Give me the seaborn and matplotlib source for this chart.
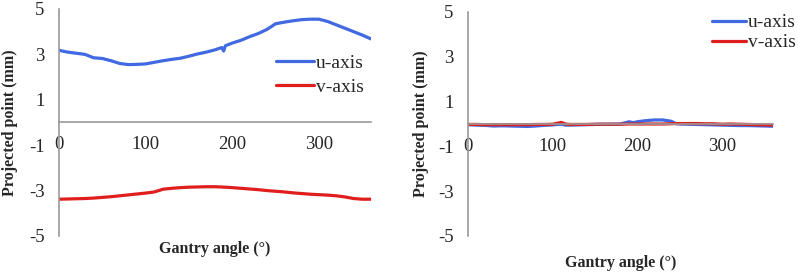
import matplotlib
matplotlib.use('Agg')
import matplotlib.pyplot as plt
import numpy as np
import pandas as pd
import seaborn as sns

# gantry angle samples (deg)
angle_left = [0, 10, 20, 30, 40, 50, 60, 70, 80, 90, 100, 110, 120, 130, 140, 150, 160, 170,
              180, 186, 188, 190, 192, 200, 210, 220, 230, 240, 250, 260, 270, 280, 290, 300,
              310, 320, 330, 340, 350, 360]
u_left = [3.18, 3.1, 3.05, 3.0, 2.85, 2.82, 2.72, 2.6, 2.55, 2.56, 2.58, 2.65, 2.72, 2.78, 2.83,
          2.92, 3.02, 3.1, 3.2, 3.28, 3.3, 3.15, 3.38, 3.5, 3.62, 3.78, 3.92, 4.1, 4.35, 4.42,
          4.48, 4.53, 4.55, 4.55, 4.45, 4.3, 4.15, 4.0, 3.85, 3.68]
v_left = [-3.38, -3.37, -3.36, -3.35, -3.33, -3.3, -3.27, -3.23, -3.19, -3.15, -3.11, -3.06,
          -2.94, -2.9, -2.87, -2.85, -2.84, -2.83, -2.83, -2.84, -2.84, -2.85, -2.85, -2.87,
          -2.9, -2.93, -2.96, -3.0, -3.03, -3.06, -3.1, -3.13, -3.16, -3.18, -3.2, -3.23,
          -3.28, -3.35, -3.38, -3.38]

angle_right = [0, 10, 20, 30, 40, 50, 60, 70, 80, 90, 100, 105, 110, 115, 120, 130, 140, 150,
               160, 170, 180, 190, 195, 200, 210, 220, 230, 240, 245, 250, 260, 270, 280, 290,
               300, 310, 320, 330, 340, 350, 360]
u_right = [-0.03, -0.05, -0.06, -0.09, -0.08, -0.09, -0.1, -0.11, -0.09, -0.06, -0.04, -0.02,
           -0.01, -0.05, -0.05, -0.04, -0.03, -0.02, -0.01, -0.01, 0.0, 0.1, 0.06, 0.1, 0.15,
           0.18, 0.18, 0.12, 0.02, 0.0, -0.01, -0.02, -0.03, -0.04, -0.05, -0.06, -0.07, -0.07,
           -0.08, -0.09, -0.1]
v_right = [-0.02, -0.02, -0.03, -0.03, -0.03, -0.03, -0.03, -0.03, -0.02, -0.02, -0.01, 0.03,
           0.07, 0.0, -0.02, -0.02, -0.02, -0.01, -0.01, -0.01, -0.01, 0.0, 0.0, 0.0, 0.0,
           0.0, 0.0, 0.01, 0.02, 0.02, 0.02, 0.02, 0.01, 0.01, -0.01, 0.0, -0.01, -0.02,
           -0.03, -0.04, -0.05]

y_ticks = [-5, -3, -1, 1, 3, 5]
x_ticks = [0, 100, 200, 300]

sns.set_style('white')
plt.rcParams['font.family'] = ['Liberation Serif', 'DejaVu Serif']
plt.rcParams['axes.unicode_minus'] = False

BLUE = '#4169E1'
RED = '#E01E1E'
AXIS_GRAY = '#9a9a9a'


def make_panel(fig, rect, angle_u, u, angle_v, v, leg_anchor, leg_spacing, handle_len,
               xlabel_y, ylabel_x):
    ax = fig.add_axes(rect)
    df_u = pd.DataFrame({'angle': angle_u, 'value': u})
    df_v = pd.DataFrame({'angle': angle_v, 'value': v})
    sns.lineplot(data=df_u, x='angle', y='value', ax=ax, color=BLUE, lw=2.3, label='u-axis')
    sns.lineplot(data=df_v, x='angle', y='value', ax=ax, color=RED, lw=2.3, label='v-axis')
    ax.set_xlim(0, 360)
    ax.set_ylim(-5, 5)
    ax.set_yticks(y_ticks)
    ax.set_xticks(x_ticks)
    ax.spines['top'].set_visible(False)
    ax.spines['right'].set_visible(False)
    ax.spines['bottom'].set_position(('data', 0))
    for s in ('left', 'bottom'):
        ax.spines[s].set_color(AXIS_GRAY)
        ax.spines[s].set_linewidth(1.2)
    ax.tick_params(axis='y', direction='out', length=4.3, color=AXIS_GRAY, width=1.2,
                   labelsize=13.5, pad=6)
    ax.tick_params(axis='x', length=0, labelsize=13.5, pad=10)
    ax.set_xlabel('Gantry angle (°)', fontsize=11.5, fontweight='bold')
    ax.xaxis.set_label_coords(0.5, xlabel_y)
    ax.set_ylabel('Projected point (mm)', fontsize=11.5, fontweight='bold')
    ax.yaxis.set_label_coords(ylabel_x, 0.5)
    ax.legend(loc='center left', bbox_to_anchor=leg_anchor, frameon=False, fontsize=14,
              handlelength=handle_len, handletextpad=0.1, labelspacing=leg_spacing,
              borderpad=0, borderaxespad=0)
    return ax


fig = plt.figure(figsize=(7.98, 2.72), dpi=100)
ax1 = make_panel(fig, [0.0739, 0.1324, 0.391, 0.8346], angle_left, u_left, angle_left, v_left,
                 (0.695, 0.709), 0.33, 1.95, -0.02, -0.13)
ax2 = make_panel(fig, [0.5865, 0.1324, 0.3822, 0.8235], angle_right, u_right, angle_right, v_right,
                 (0.80, 0.908), 0.12, 1.75, -0.085, -0.128)
fig.savefig('out.png', dpi=100)
